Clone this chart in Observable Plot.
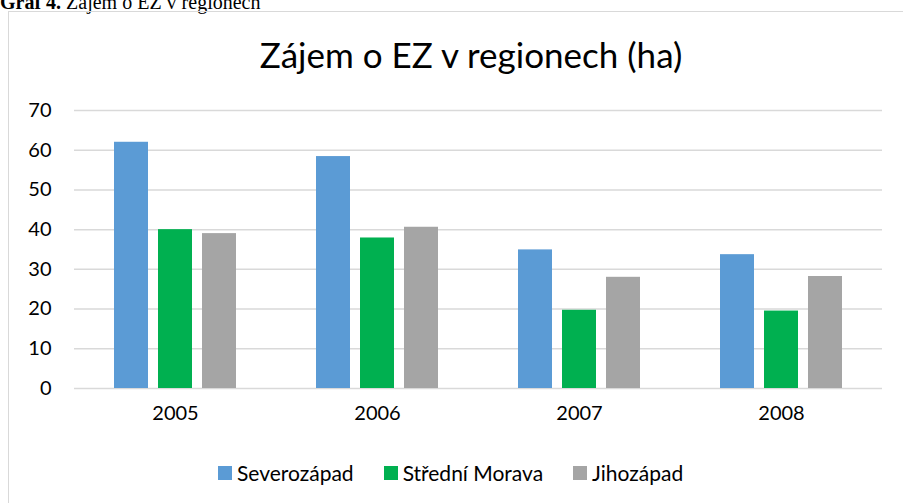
<!DOCTYPE html>
<html>
<head>
<meta charset="utf-8">
<script src="https://cdn.jsdelivr.net/npm/d3@7"></script>
<script src="https://cdn.jsdelivr.net/npm/@observablehq/plot@0.6"></script>
<style>
  html, body { margin: 0; padding: 0; background: #fff; overflow: hidden; }
  #page { position: relative; width: 903px; height: 503px; overflow: hidden; }
  #caption { position: absolute; left: 0; top: -8px; font-family: "Liberation Serif", "Times New Roman", serif; font-size: 20px; line-height: 20px; color: #000; white-space: nowrap; }
  #frame { position: absolute; left: 8px; top: 11px; width: 1000px; height: 600px; border: 1.5px solid #d9d9d9; box-sizing: border-box; }
  #title { position: absolute; left: 0; top: 37px; width: 942px; text-align: center; font-family: Lato, sans-serif; font-size: 35px; line-height: 35px; color: #000; }
  #chart { position: absolute; left: 0; top: 0; }
  #legend { position: absolute; left: 218px; top: 461px; display: flex; align-items: center; font-family: Lato, sans-serif; font-size: 21px; line-height: 24px; color: #000; }
  .item { display: flex; align-items: center; margin-right: 30px; }
  .sw { width: 14px; height: 14px; margin-right: 5px; }
</style>
</head>
<body>
<div id="page">
  <div id="caption"><b>Graf 4.</b> Zájem o EZ v regionech</div>
  <div id="frame"></div>
  <div id="title">Zájem o EZ v regionech (ha)</div>
  <div id="chart"></div>
  <div id="legend"></div>
</div>
<script>
const years = ["2005", "2006", "2007", "2008"];
const series = ["Severozápad", "Střední Morava", "Jihozápad"];
const severozapad = [62, 58.4, 34.9, 33.7];
const stredniMorava = [40, 37.9, 19.7, 19.5];
const jihozapad = [39, 40.6, 28, 28.2];
const colors = ["#5b9bd5", "#00b050", "#a5a5a5"];
const yTicks = [0, 10, 20, 30, 40, 50, 60, 70];

const valuesBySeries = [severozapad, stredniMorava, jihozapad];
const data = [];
years.forEach((yr, i) => {
  series.forEach((s, j) => {
    data.push({year: yr, series: s, value: valuesBySeries[j][i]});
  });
});

const chart = Plot.plot({
  width: 903,
  height: 440,
  marginLeft: 73,
  marginRight: 20,
  marginTop: 110,
  marginBottom: 52,
  style: {fontFamily: "Lato, sans-serif", fontSize: "20px", color: "#000", background: "transparent", overflow: "visible"},
  fx: {domain: years, padding: 0, axis: "bottom", tickSize: 0, tickPadding: 17, label: null},
  x: {domain: series, axis: null, paddingInner: 0.2222, paddingOuter: 0.861},
  y: {domain: [0, 70], ticks: yTicks, tickSize: 0, tickPadding: 23, label: null},
  color: {domain: series, range: colors},
  marks: [
    Plot.ruleY(yTicks, {stroke: "#d9d9d9", strokeWidth: 1.5}),
    Plot.barY(data, {fx: "year", x: "series", y: "value", fill: "series"})
  ]
});
document.getElementById("chart").appendChild(chart);

const legend = document.getElementById("legend");
series.forEach((s, j) => {
  const item = document.createElement("div");
  item.className = "item";
  const sw = document.createElement("div");
  sw.className = "sw";
  sw.style.background = colors[j];
  const t = document.createElement("span");
  t.textContent = s;
  item.appendChild(sw);
  item.appendChild(t);
  legend.appendChild(item);
});
</script>
</body>
</html>
